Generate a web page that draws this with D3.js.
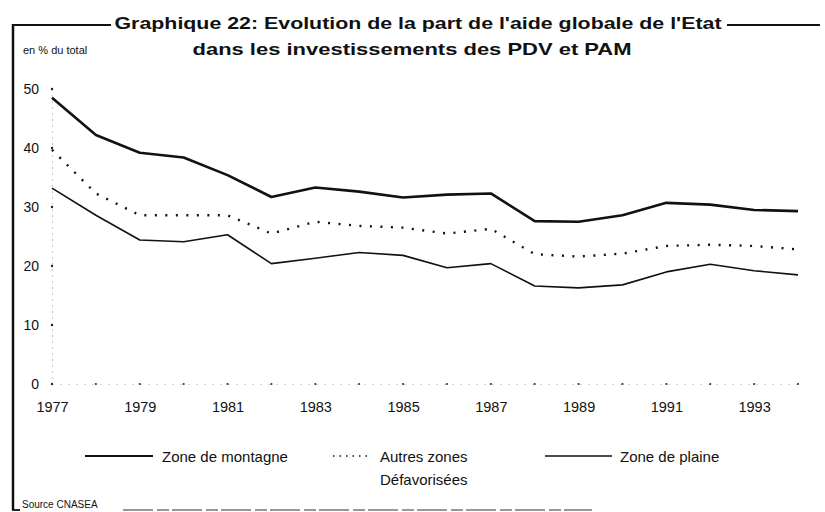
<!DOCTYPE html>
<html>
<head>
<meta charset="utf-8">
<script src="https://cdn.jsdelivr.net/npm/d3@7"></script>
<style>
  body { margin: 0; background: #fff; }
  text { font-family: "Liberation Sans", Arial, sans-serif; fill: #111; }
</style>
</head>
<body>
<div id="chart"></div>
<script>
// Data
const years = [1977, 1978, 1979, 1980, 1981, 1982, 1983, 1984, 1985, 1986, 1987, 1988, 1989, 1990, 1991, 1992, 1993, 1994];
const montagne = [48.5, 42.2, 39.2, 38.4, 35.4, 31.7, 33.3, 32.6, 31.6, 32.1, 32.3, 27.6, 27.5, 28.6, 30.7, 30.4, 29.5, 29.3];
const autres = [39.7, 32.3, 28.6, 28.6, 28.6, 25.5, 27.5, 26.8, 26.5, 25.5, 26.3, 22.0, 21.6, 22.1, 23.4, 23.6, 23.4, 22.8];
const plaine = [33.2, 28.6, 24.4, 24.1, 25.3, 20.4, 21.3, 22.3, 21.8, 19.7, 20.4, 16.6, 16.3, 16.8, 19.0, 20.3, 19.2, 18.5];
const yTicks = [0, 10, 20, 30, 40, 50];
const xTickYears = [1977, 1979, 1981, 1983, 1985, 1987, 1989, 1991, 1993];

const width = 825, height = 512;

const svg = d3.select("#chart")
  .append("svg")
  .attr("width", width)
  .attr("height", height);

const x = d3.scaleLinear().domain([1977, 1994]).range([52, 798]);
const y = d3.scaleLinear().domain([0, 50]).range([384, 89]);

// Frame
svg.append("line").attr("x1", 13).attr("x2", 13).attr("y1", 24).attr("y2", 510)
  .attr("stroke", "#111").attr("stroke-width", 2.5);
svg.append("line").attr("x1", 12).attr("x2", 111).attr("y1", 25).attr("y2", 25)
  .attr("stroke", "#111").attr("stroke-width", 1.8);
svg.append("line").attr("x1", 727).attr("x2", 820).attr("y1", 25).attr("y2", 25)
  .attr("stroke", "#111").attr("stroke-width", 1.8);
svg.append("line").attr("x1", 12).attr("x2", 20).attr("y1", 510).attr("y2", 510)
  .attr("stroke", "#111").attr("stroke-width", 1.8);
svg.append("line").attr("x1", 123).attr("x2", 592).attr("y1", 510).attr("y2", 510)
  .attr("stroke", "#777").attr("stroke-width", 1.5).attr("stroke-dasharray", "30 4 12 3");
svg.append("text").attr("x", 22).attr("y", 508)
  .style("font-size", "10px").text("Source CNASEA");

// Title
svg.append("text").attr("x", 418).attr("y", 29)
  .attr("text-anchor", "middle")
  .style("font-size", "17px").style("font-weight", "bold")
  .attr("textLength", 607).attr("lengthAdjust", "spacingAndGlyphs")
  .text("Graphique 22: Evolution de la part de  l'aide globale de l'Etat");
svg.append("text").attr("x", 412).attr("y", 55)
  .attr("text-anchor", "middle")
  .style("font-size", "17px").style("font-weight", "bold")
  .attr("textLength", 439).attr("lengthAdjust", "spacingAndGlyphs")
  .text("dans les investissements des PDV et  PAM");

svg.append("text").attr("x", 23).attr("y", 54)
  .style("font-size", "11px").text("en % du total");

// Axes (dotted, as in the print)
const yAxis = d3.axisLeft(y).tickValues(yTicks).tickSize(0).tickPadding(13);
svg.append("g").attr("class", "y-axis")
  .attr("transform", `translate(52,0)`)
  .call(yAxis)
  .call(g => g.select(".domain").attr("stroke", "#999").attr("stroke-dasharray", "1 5"))
  .call(g => g.selectAll("text").style("font-size", "14px").attr("fill", "#111")
    .style("font-family", "'Liberation Sans', Arial, sans-serif"));

const xAxis = d3.axisBottom(x).tickValues(xTickYears).tickFormat(d3.format("d")).tickSize(0).tickPadding(18);
svg.append("g").attr("class", "x-axis")
  .attr("transform", `translate(0,${y(0)})`)
  .call(xAxis)
  .call(g => g.select(".domain").attr("stroke", "#aaa").attr("stroke-dasharray", "1 7"))
  .call(g => g.selectAll("text").style("font-size", "14.5px").attr("fill", "#111")
    .style("font-family", "'Liberation Sans', Arial, sans-serif"));

// small dots at tick positions
svg.selectAll(".ydot").data(yTicks).enter().append("circle")
  .attr("cx", 52).attr("cy", d => y(d)).attr("r", 1.2).attr("fill", "#222");
svg.selectAll(".xdot").data(years).enter().append("circle")
  .attr("cx", d => x(d)).attr("cy", y(0)).attr("r", 1.1).attr("fill", "#333");

// Lines
const series = [
  { name: "montagne", values: montagne, width: 2.6, dash: null },
  { name: "autres", values: autres, width: 2.4, dash: "2 8.5" },
  { name: "plaine", values: plaine, width: 1.6, dash: null }
];

const line = d3.line()
  .x((d, i) => x(years[i]))
  .y(d => y(d));

svg.selectAll(".series").data(series).enter().append("path")
  .attr("class", "series")
  .attr("d", d => line(d.values))
  .attr("fill", "none")
  .attr("stroke", "#111")
  .attr("stroke-width", d => d.width)
  .attr("stroke-dasharray", d => d.dash)
  .attr("stroke-linejoin", "round");

// Legend
const legend = svg.append("g").attr("class", "legend");
legend.append("line").attr("x1", 85).attr("x2", 153).attr("y1", 456).attr("y2", 456)
  .attr("stroke", "#111").attr("stroke-width", 2.2);
legend.append("text").attr("x", 162).attr("y", 462).style("font-size", "15px").text("Zone de montagne");
legend.append("line").attr("x1", 333).attr("x2", 368).attr("y1", 456).attr("y2", 456)
  .attr("stroke", "#111").attr("stroke-width", 1.6).attr("stroke-dasharray", "1.5 5");
legend.append("text").attr("x", 380).attr("y", 462).style("font-size", "15px").text("Autres zones");
legend.append("text").attr("x", 380).attr("y", 485).style("font-size", "15px").text("Défavorisées");
legend.append("line").attr("x1", 545).attr("x2", 612).attr("y1", 456).attr("y2", 456)
  .attr("stroke", "#111").attr("stroke-width", 1.6);
legend.append("text").attr("x", 620).attr("y", 462).style("font-size", "15px").text("Zone de plaine");
</script>
</body>
</html>
